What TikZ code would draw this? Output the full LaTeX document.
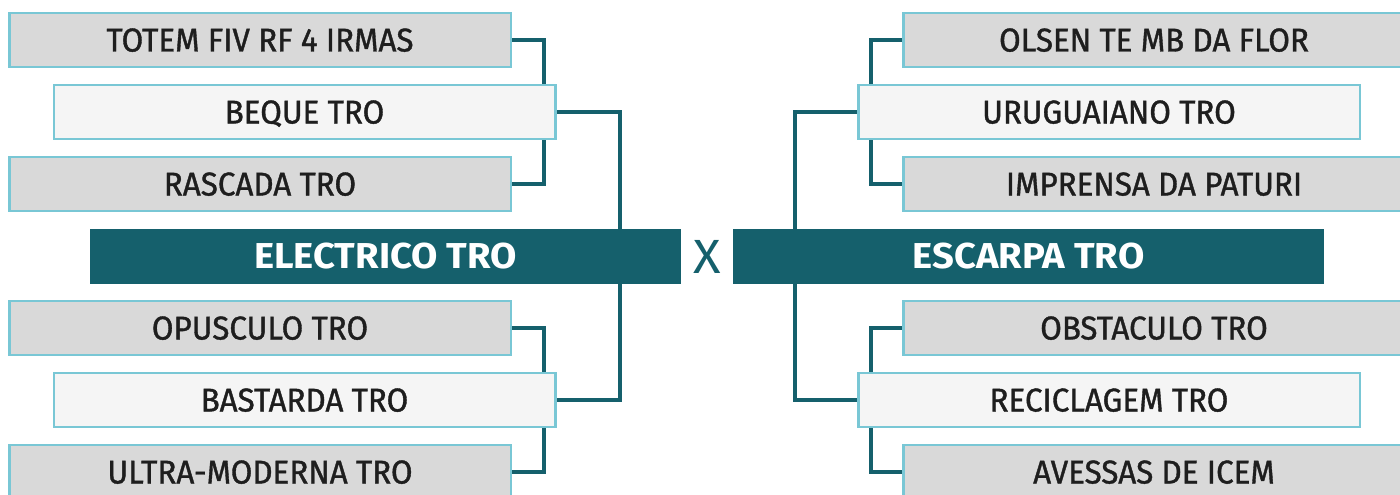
\documentclass[tikz,border=0pt]{standalone}
\usepackage{fontspec}
\setmainfont{Fira Sans}
\newfontfamily\tmlabfont{Fira Sans}[FakeStretch=0.95,FakeBold=1.1]
\newfontfamily\tmheadfont{Fira Sans}[FakeStretch=1.06]
\usetikzlibrary{backgrounds}
\definecolor{tmteal}{HTML}{15606C}
\definecolor{tmrim}{HTML}{79C7D5}
\definecolor{tmgrey}{HTML}{D9D9D9}
\definecolor{tmpale}{HTML}{F5F5F5}
\definecolor{tmink}{HTML}{1E1E1E}
\newcommand{\tmlab}[1]{\fontsize{33pt}{33pt}\tmlabfont #1}
\newcommand{\tmhead}[1]{\fontsize{36pt}{36pt}\tmheadfont\bfseries #1}

\begin{document}
\begin{tikzpicture}[x=1pt,y=-1pt,line join=miter,
  every node/.style={inner sep=0pt,outer sep=0pt},
  lowbox/.style={draw=tmrim,line width=2.5pt,fill=tmgrey,text=tmink,
    minimum width=501.5pt,minimum height=54pt,text height=23pt,text depth=0pt},
  topbox/.style={lowbox,fill=tmpale},
  headbox/.style={fill=tmteal,text=white,minimum width=591pt,minimum height=55pt,
    text height=25pt,text depth=0pt},
  brk/.style={draw=tmteal,line width=4.5pt}]
  % 画布 1400x495px，1pt＝1px，y 向下
  \useasboundingbox (0,0) rectangle (1400,495);
  \clip (0,0) rectangle (1400,495);
  % ---- 括号竖线所在列（源图像素 x）----
  \coordinate (lin)  at (544,0);
  \coordinate (lout) at (620,0);
  \coordinate (rin)  at (871,0);
  \coordinate (rout) at (795,0);
  % ---- 左半：行距 72px ----
  \node[lowbox]  (totem)     at (260,40)    {\tmlab{TOTEM FIV RF 4 IRMAS}};
  \node[topbox]  (beque)     at (304.5,112) {\tmlab{BEQUE TRO}};
  \node[lowbox]  (rascada)   at (260,184)   {\tmlab{RASCADA TRO}};
  \node[headbox] (electrico) at (385.5,256) {\tmhead{ELECTRICO TRO}};
  \node[lowbox]  (opusculo)  at (260,328)   {\tmlab{OPUSCULO TRO}};
  \node[topbox]  (bastarda)  at (304.5,400) {\tmlab{BASTARDA TRO}};
  \node[lowbox]  (ultra)     at (260,472)   {\tmlab{ULTRA-MODERNA TRO}};
  % ---- 右半：框右缘出画 ----
  \node[lowbox]  (olsen)      at (1154,40)    {\tmlab{OLSEN TE MB DA FLOR}};
  \node[topbox]  (uruguaiano) at (1109,112)   {\tmlab{URUGUAIANO TRO}};
  \node[lowbox]  (imprensa)   at (1154,184)   {\tmlab{IMPRENSA DA PATURI}};
  \node[headbox] (escarpa)    at (1028.5,256) {\tmhead{ESCARPA TRO}};
  \node[lowbox]  (obstaculo)  at (1154,328)   {\tmlab{OBSTACULO TRO}};
  \node[topbox]  (reciclagem) at (1109,400)   {\tmlab{RECICLAGEM TRO}};
  \node[lowbox]  (avessas)    at (1154,472)   {\tmlab{AVESSAS DE ICEM}};
  % ---- 中间 X ----
  \node[text=tmteal,font=\fontsize{48pt}{48pt}\tmheadfont] (versus) at (707,257) {X};
  % ---- 连线压在框下 ----
  \begin{pgfonlayer}{background}
    \draw[brk] (totem.east) -| (beque.north -| lin);
    \draw[brk] (beque.south -| lin) |- (rascada.east);
    \draw[brk] (beque.east) -| (electrico.north -| lout);
    \draw[brk] (electrico.south -| lout) |- (bastarda.east);
    \draw[brk] (opusculo.east) -| (bastarda.north -| lin);
    \draw[brk] (bastarda.south -| lin) |- (ultra.east);
    \draw[brk] (olsen.west) -| (uruguaiano.north -| rin);
    \draw[brk] (uruguaiano.south -| rin) |- (imprensa.west);
    \draw[brk] (uruguaiano.west) -| (escarpa.north -| rout);
    \draw[brk] (escarpa.south -| rout) |- (reciclagem.west);
    \draw[brk] (obstaculo.west) -| (reciclagem.north -| rin);
    \draw[brk] (reciclagem.south -| rin) |- (avessas.west);
  \end{pgfonlayer}
\end{tikzpicture}
\end{document}
